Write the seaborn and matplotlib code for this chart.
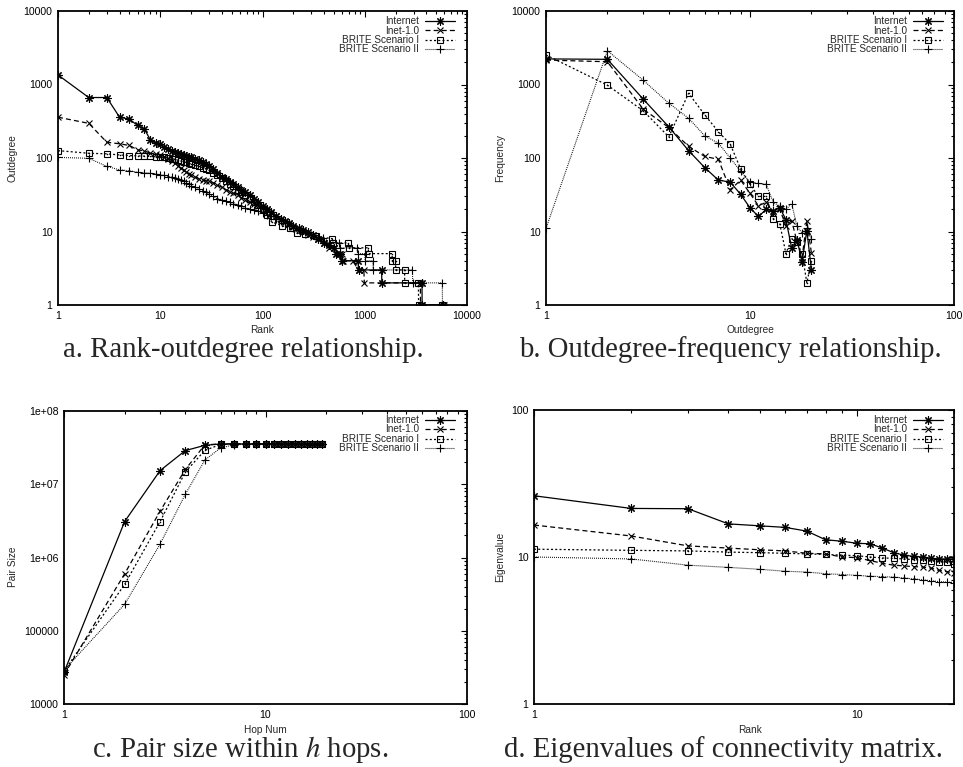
import matplotlib
matplotlib.use("Agg")
import matplotlib.pyplot as plt
import seaborn as sns
from matplotlib.ticker import FixedLocator, LogLocator, NullFormatter

SERIES = ["Internet", "Inet-1.0", "BRITE Scenario I", "BRITE Scenario II"]

# ---- (a) rank vs outdegree ----
a_rank_internet = [1, 2, 3, 4, 5, 6, 7, 8, 9, 10, 11, 12, 13, 14, 15, 16, 17, 18, 19, 20,
                   22, 24, 26, 28, 30, 33, 36, 40, 44, 48, 52, 57, 62, 68, 75, 82, 90, 100,
                   110, 120, 135, 150, 165, 180, 200, 225, 250, 280, 310, 350, 400, 450, 500,
                   520, 575, 600, 860, 870, 1460, 1470, 3630, 3640, 5870]
a_deg_internet = [1350, 665, 665, 359, 337, 277, 247, 177, 159, 156, 140, 133, 126, 122, 118,
                  114, 110, 107, 104, 102, 98, 94, 88, 82, 77, 70, 62, 56, 52, 47, 44, 40, 37,
                  34, 31, 28, 25, 22, 20, 18.5, 16.5, 15, 14, 13, 12, 11, 10.5, 10, 9, 8, 7,
                  6.5, 6, 5, 5, 4, 4, 3, 3, 2, 2, 1, 1]

a_rank_inet = [1, 2, 3, 4, 5, 6, 7, 8, 9, 10, 11, 12, 13, 14, 15, 16, 17, 18, 19, 20,
               22, 24, 26, 28, 30, 33, 36, 40, 44, 48, 52, 57, 62, 68, 75, 82, 90, 100,
               110, 120, 135, 150, 165, 180, 200, 225, 250, 280, 310, 350, 400, 450, 500,
               560, 600, 610, 760, 870, 980, 990, 3500, 3510, 5900]
a_deg_inet = [359, 296, 164, 156, 148, 129, 125, 116, 112, 110, 104, 98, 92, 85, 78, 72, 68,
              64, 61, 59, 55, 52, 50, 49, 48, 46, 43, 40, 37, 35, 33, 31, 29, 27, 25.5, 24,
              22.5, 21, 19.5, 18, 16, 14.5, 13.5, 12.5, 11.5, 10.5, 10, 9, 8.5, 8, 7, 6, 6,
              5, 5, 4, 4, 3, 3, 2, 2, 1, 1]

a_rank_brite1 = [1, 2, 3, 4, 5, 6, 7, 8, 9, 10, 11, 12, 13, 14, 15, 16, 17, 18, 19, 20,
                 22, 24, 26, 28, 30, 33, 36, 40, 44, 48, 52, 57, 62, 68, 75, 82, 90, 100,
                 110, 123, 155, 186, 216, 260, 330, 480, 490, 690, 700, 1080, 1090, 1850, 1860,
                 2000, 2010, 2450, 2460, 3350, 3360, 5740]
a_deg_brite1 = [126, 116, 114, 110, 108, 107, 106, 105, 104, 104, 103, 100, 98, 96, 93, 91,
                89, 87, 85, 83, 80, 77, 74, 71, 68, 63, 58, 53, 48, 44, 41, 37, 34, 31, 28,
                25, 23, 20.5, 17, 13.5, 12, 11, 9.6, 9.2, 8.6, 8, 7, 7, 6, 6, 5, 5, 4, 4, 3,
                3, 2, 2, 1, 1]

a_rank_brite2 = [1, 2, 3, 4, 5, 6, 7, 8, 9, 10, 11, 12, 13, 14, 15, 16, 17, 18, 19, 20,
                 22, 24, 26, 28, 30, 33, 36, 40, 44, 48, 52, 57, 62, 68, 75, 82, 90, 100,
                 110, 120, 135, 150, 165, 180, 200, 230, 260, 300, 350, 390, 420, 560, 570,
                 840, 850, 1000, 1010, 1200, 1210, 2930, 2940, 5740, 5750]
a_deg_brite2 = [102, 99, 77, 69, 67, 64, 63, 62, 61, 59, 58, 56, 55, 53, 52, 50, 48, 46, 44,
                42, 40, 38, 36, 34, 32, 30, 28, 27, 26, 25, 24, 23, 22, 21, 20, 19.5, 19, 18,
                17, 16, 15, 14, 13, 12, 11, 10.5, 10, 9, 8.5, 8.2, 7, 7, 6, 6, 5, 5, 4, 4, 3,
                3, 2, 2, 1]

# ---- (b) outdegree vs frequency ----
b_outdegree = list(range(1, 21))
b_freq_internet = [2230, 2200, 630, 265, 126, 74, 50, 47, 32, 21, 16, 20, 19, 21, 14.5, 6,
                   7.7, 3.9, 10.3, 3]
b_freq_inet = [2150, 2040, 460, 260, 144, 105, 96, 37, 50, 33, 22.4, 25, 18, 20, 12, 14, 7.3,
               4.4, 14, 5.1]
b_freq_brite1 = [2520, 980, 437, 194, 760, 386, 228, 154, 71, 44, 30, 30, 15, 12.7, 5, 8, 7.1,
                 5, 2, 4]
b_freq_brite2 = [11, 2880, 1140, 556, 348, 200, 159, 100, 66, 47, 45, 44, 25, 22, 20, 24,
                 11.7, 9.5, 11, 8]

# ---- (c) hop number vs pair size ----
c_hops = list(range(1, 20))
c_pairs_internet = [2.7e4, 3.1e6, 1.54e7, 2.88e7, 3.4e7] + [3.55e7] * 14
c_pairs_inet = [2.5e4, 6.0e5, 4.3e6, 1.59e7, 3.45e7] + [3.55e7] * 14
c_pairs_brite1 = [2.8e4, 4.3e5, 3.1e6, 1.47e7, 2.9e7, 3.5e7] + [3.55e7] * 13
c_pairs_brite2 = [2.9e4, 2.3e5, 1.53e6, 7.3e6, 2.14e7, 3.15e7, 3.45e7] + [3.52e7] * 12

# ---- (d) rank vs eigenvalue ----
d_rank = list(range(1, 21))
d_eig_internet = [26.1, 21.4, 21.3, 16.8, 16.3, 15.9, 15.0, 13.1, 12.8, 12.4, 12.3, 11.5,
                  10.7, 10.3, 10.1, 10.0, 9.8, 9.7, 9.7, 9.7]
d_eig_inet = [16.5, 13.9, 11.9, 11.5, 11.2, 11.0, 10.6, 10.5, 10.0, 9.9, 9.45, 9.06, 8.8, 8.7,
              8.6, 8.55, 8.4, 8.1, 7.95, 7.8]
d_eig_brite1 = [11.3, 11.1, 11.0, 10.8, 10.7, 10.6, 10.5, 10.4, 10.3, 10.2, 10.0, 9.85, 9.8,
                9.7, 9.6, 9.5, 9.4, 9.3, 9.2, 8.9]
d_eig_brite2 = [10.0, 9.7, 8.8, 8.5, 8.25, 8.0, 7.9, 7.7, 7.6, 7.5, 7.4, 7.35, 7.3, 7.2, 7.1,
                7.0, 6.9, 6.8, 6.75, 6.7]

# tick labels
ticks_a = [1, 10, 100, 1000, 10000]
ticklabels_a = ["1", "10", "100", "1000", "10000"]
ticks_b_x = [1, 10, 100]
ticklabels_b_x = ["1", "10", "100"]
ticks_c_y = [1e4, 1e5, 1e6, 1e7, 1e8]
ticklabels_c_y = ["10000", "100000", "1e+06", "1e+07", "1e+08"]
ticks_d_x = [1, 10]
ticklabels_d_x = ["1", "10"]
ticks_d_y = [1, 10, 100]
ticklabels_d_y = ["1", "10", "100"]

captions = ["a. Rank-outdegree relationship.",
            "b. Outdegree-frequency relationship.",
            "c. Pair size within $h$ hops.",
            "d. Eigenvalues of connectivity matrix."]

sns.set_style("white")
plt.rcParams["font.family"] = ["Liberation Sans", "DejaVu Sans"]
plt.rcParams["mathtext.fontset"] = "stix"

W, H = 963, 767
fig = plt.figure(figsize=(W / 100, H / 100), dpi=100)

STYLE = {
    "Internet": dict(ls="-", lw=0.9, marker=(8, 2, 0), ms=6),
    "Inet-1.0": dict(ls=(0, (4, 2.5)), lw=0.9, marker="x", ms=4.5),
    "BRITE Scenario I": dict(ls=(0, (1.6, 1.8)), lw=0.9, marker="s", ms=4.8),
    "BRITE Scenario II": dict(ls=(0, (0.8, 1.0)), lw=0.8, marker="+", ms=5.5),
}


def make_axes(l, t, r, b):
    return fig.add_axes([l / W, 1 - b / H, (r - l) / W, (b - t) / H])


def draw(ax, xs, ys):
    for name, x, y in zip(SERIES, xs, ys):
        st = STYLE[name]
        sns.lineplot(x=x, y=y, ax=ax, estimator=None, sort=False, color="black",
                     linestyle=st["ls"], linewidth=st["lw"], marker=st["marker"],
                     markersize=st["ms"], markerfacecolor="none",
                     markeredgecolor="black", markeredgewidth=0.8, label=name,
                     legend=False)
        if st["marker"] == "s":
            sns.scatterplot(x=x, y=y, ax=ax, s=1.2, color="black", linewidth=0,
                            legend=False)


def style_axes(ax, box, xlim, ylim, xticks, xlabels, yticks, ylabels, xlabel, ylabel,
               xlab_px, ylab_px, leg_px):
    l, t, r, b = box
    ax.set_xscale("log")
    ax.set_yscale("log")
    ax.set_xlim(*xlim)
    ax.set_ylim(*ylim)
    ax.xaxis.set_major_locator(FixedLocator(xticks))
    ax.set_xticklabels(xlabels)
    ax.yaxis.set_major_locator(FixedLocator(yticks))
    ax.set_yticklabels(ylabels)
    for axis in (ax.xaxis, ax.yaxis):
        axis.set_minor_locator(LogLocator(base=10, subs=range(2, 10), numticks=100))
        axis.set_minor_formatter(NullFormatter())
    ax.tick_params(which="both", direction="in", top=True, right=True, width=0.8,
                   colors="black", labelsize=7.6)
    ax.tick_params(which="major", length=4.5, pad=4)
    ax.tick_params(which="minor", length=2.5)
    for sp in ax.spines.values():
        sp.set_linewidth(1.3)
        sp.set_color("black")
    ax.grid(False)
    ax.set_xlabel(xlabel, fontsize=7.3)
    ax.set_ylabel(ylabel, fontsize=7.3)
    wpx, hpx = r - l, b - t
    ax.xaxis.set_label_coords((xlab_px[0] - l) / wpx, (b - xlab_px[1]) / hpx)
    ax.yaxis.set_label_coords((ylab_px[0] - l) / wpx, (b - ylab_px[1]) / hpx)
    ax.xaxis.label.set_va("center")
    ax.yaxis.label.set_va("center")
    handles, labels = ax.get_legend_handles_labels()
    ax.legend(handles, labels, loc="upper right", frameon=False, markerfirst=False,
              fontsize=7.2, handlelength=3.0, handleheight=0.5, handletextpad=0.6,
              labelspacing=-0.05, borderaxespad=0, borderpad=0,
              bbox_to_anchor=((leg_px[0] - l) / wpx, (b - leg_px[1]) / hpx))


box_a = (58, 11, 467, 305)
box_b = (546, 11, 954, 305)
box_c = (64, 411, 467, 704)
box_d = (534, 410, 954, 704)

ax_a = make_axes(*box_a)
draw(ax_a, [a_rank_internet, a_rank_inet, a_rank_brite1, a_rank_brite2],
     [a_deg_internet, a_deg_inet, a_deg_brite1, a_deg_brite2])
style_axes(ax_a, box_a, (1, 10000), (1, 10000), ticks_a, ticklabels_a, ticks_a,
           ticklabels_a, "Rank", "Outdegree", (262, 330), (13, 158), (455, 16))

ax_b = make_axes(*box_b)
draw(ax_b, [b_outdegree] * 4,
     [b_freq_internet, b_freq_inet, b_freq_brite1, b_freq_brite2])
style_axes(ax_b, box_b, (1, 100), (1, 10000), ticks_b_x, ticklabels_b_x, ticks_a,
           ticklabels_a, "Outdegree", "Frequency", (750, 330), (500, 158), (943, 16))

ax_c = make_axes(*box_c)
draw(ax_c, [c_hops] * 4,
     [c_pairs_internet, c_pairs_inet, c_pairs_brite1, c_pairs_brite2])
style_axes(ax_c, box_c, (1, 100), (1e4, 1e8), ticks_b_x, ticklabels_b_x, ticks_c_y,
           ticklabels_c_y, "Hop Num", "Pair Size", (265, 730), (13, 567), (455, 415))

ax_d = make_axes(*box_d)
draw(ax_d, [d_rank] * 4,
     [d_eig_internet, d_eig_inet, d_eig_brite1, d_eig_brite2])
style_axes(ax_d, box_d, (1, 20), (1, 100), ticks_d_x, ticklabels_d_x, ticks_d_y,
           ticklabels_d_y, "Rank", "Eigenvalue", (750, 730), (500, 557), (943, 415))

cap_pos = [(243, 357), (730, 357), (240, 757), (723, 757)]
for text, (cx, cy) in zip(captions, cap_pos):
    fig.text(cx / W, 1 - cy / H, text, ha="center", va="baseline",
             fontsize=20.7, family=["Liberation Serif", "DejaVu Serif"])

fig.savefig("out.png", dpi=100, facecolor="white")
